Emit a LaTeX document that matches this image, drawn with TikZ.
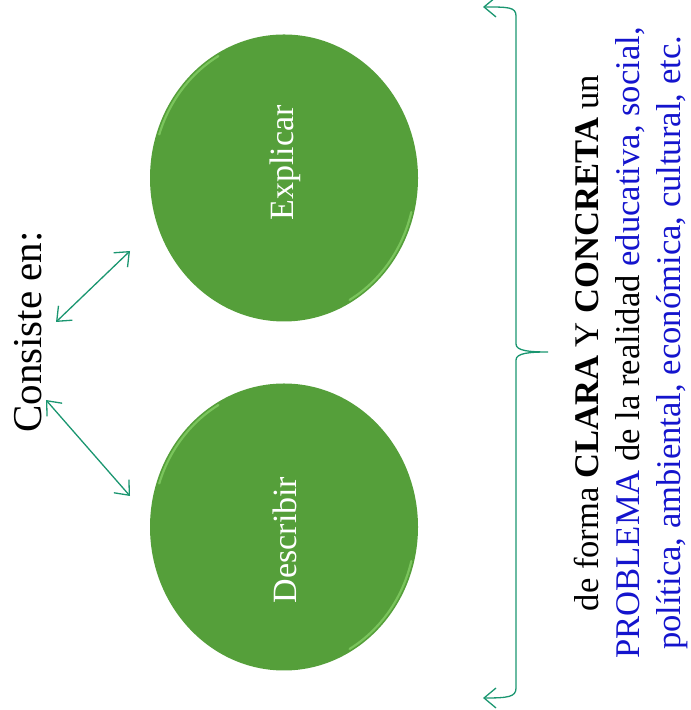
\documentclass[tikz,border=0pt]{standalone}
\usepackage{fontspec}
\setmainfont{Liberation Serif}
\usetikzlibrary{shapes.geometric,arrows.meta}
\definecolor{leafgreen}{RGB}{85,159,58}
\definecolor{rimgreen}{RGB}{122,196,92}
\definecolor{linkgreen}{RGB}{26,150,112}
\definecolor{probblue}{RGB}{20,20,205}

\begin{document}
\begin{tikzpicture}
  [x=0.5pt,y=0.5pt,
   every node/.style={rotate=90},
   bubble/.style={ellipse,fill=leafgreen,inner sep=0pt,
     minimum width=143.5pt,minimum height=134pt},
   bubbletext/.style={text=white,font=\fontsize{17}{20}\selectfont},
   rim/.style={rimgreen,line width=1.1pt,line cap=round},
   link/.style={draw=linkgreen,line width=0.65pt,
     {Straight Barb[length=6pt,width=10pt]}-{Straight Barb[length=6pt,width=10pt]}}]
  \useasboundingbox (0,0) rectangle (690,710);

  \node[font=\fontsize{20.5}{24}\selectfont] (consiste) at (28,378) {Consiste en:};
  \node[bubble] (explicar) at (284,532) {};
  \node[bubble] (describir) at (284,183) {};

  % light edge of the discs
  \foreach \b in {explicar,describir} {
    \draw[rim] ([shift={(120:65.6pt and 70.4pt)}]\b.center)
      arc[start angle=120,end angle=162,x radius=65.6pt,y radius=70.4pt];
    \draw[rim] ([shift={(-14:65.6pt and 70.4pt)}]\b.center)
      arc[start angle=-14,end angle=-60,x radius=65.6pt,y radius=70.4pt];
  }

  \node[bubbletext] (explicar text) at (285,547) {Explicar};
  \node[bubbletext] (describir text) at (285,170) {Describir};

  % ends of the two arrows
  \coordinate (a1) at (56,388);
  \coordinate (b1) at (130,459);
  \coordinate (a2) at (46,310);
  \coordinate (b2) at (130,214);
  \foreach \from/\to in {a1/b1,a2/b2}
    \draw[link] (\from) -- (\to);

  % the brace
  \coordinate (btop) at (483,703);
  \coordinate (btip) at (548,358);
  \coordinate (bbot) at (483,12);
  \draw[link] (btop) .. controls (508,703) and (516,703) .. (516,694)
    -- (516,366) .. controls (516,359) and (530,358) .. (btip)
    .. controls (530,358) and (516,357) .. (516,350)
    -- (516,22) .. controls (516,13) and (508,12) .. (bbot);

  \node[align=center,font=\fontsize{17.3}{20.5}\selectfont] (problema) at (631,367)
    {de forma \textbf{CLARA} Y \textbf{CONCRETA} un\\
     \textcolor{probblue}{PROBLEMA} de la realidad \textcolor{probblue}{educativa, social,}\\
     \textcolor{probblue}{política, ambiental, económica, cultural, etc.}};
\end{tikzpicture}
\end{document}
